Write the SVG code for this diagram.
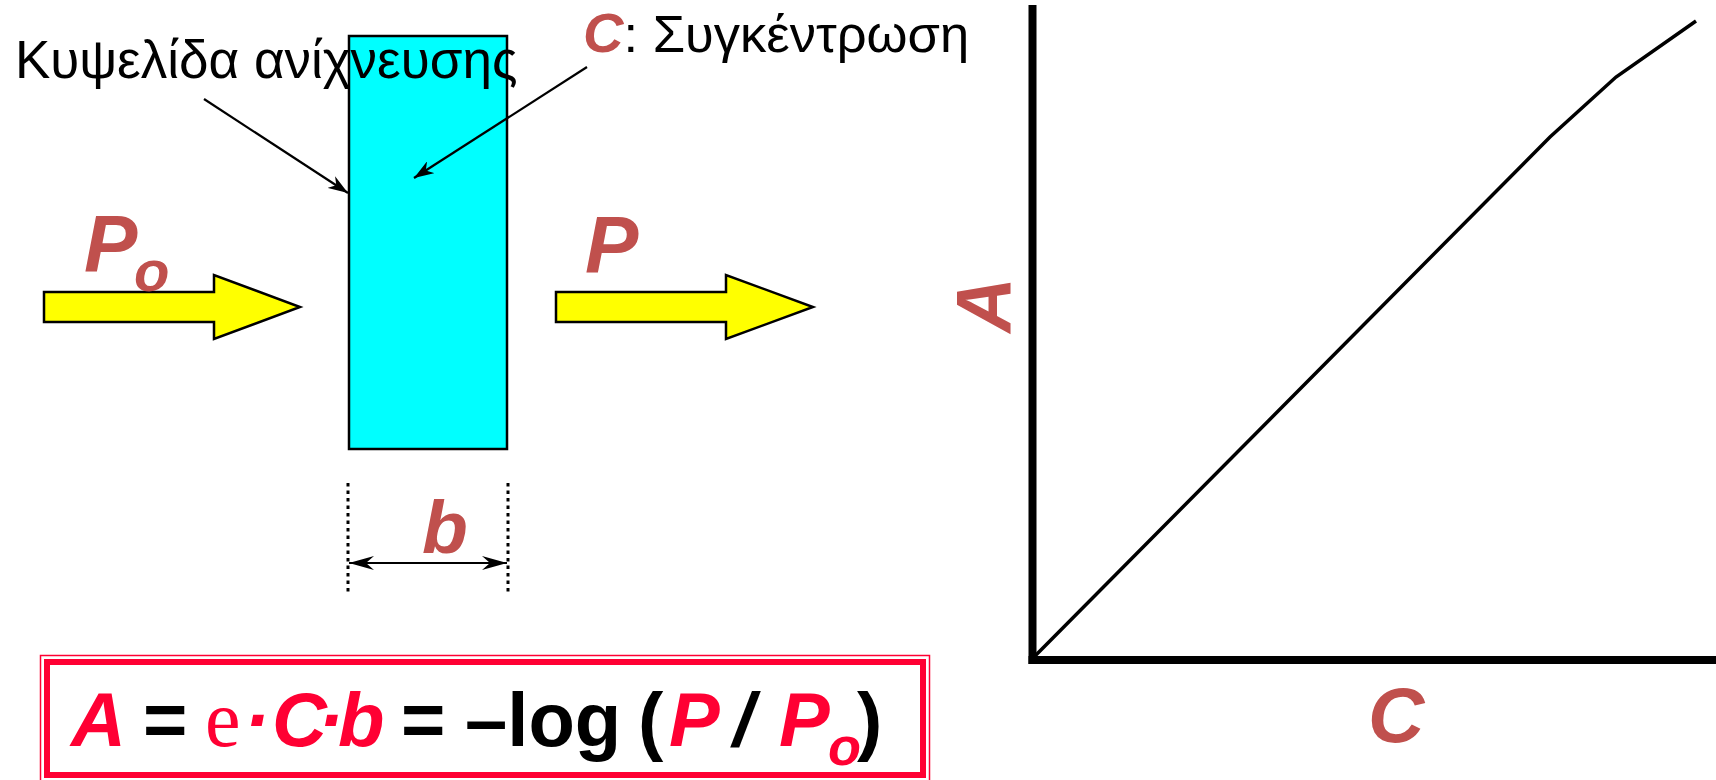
<svg xmlns="http://www.w3.org/2000/svg" width="1716" height="780" viewBox="0 0 1716 780">
<style>
.lbl{font-family:"Liberation Sans",Arial,sans-serif;font-weight:bold;font-style:italic;fill:#C0504D}
.txt{font-family:"Liberation Sans",Arial,sans-serif;fill:#000}
.fr{font-family:"Liberation Sans",Arial,sans-serif;font-weight:bold;font-style:italic;fill:#FF0033;font-size:76px}
.fb{font-family:"Liberation Sans",Arial,sans-serif;font-weight:bold;fill:#000;font-size:76px}
.lead{stroke:#000;stroke-width:2.2;fill:none}
.yarrow{fill:#FFFF00;stroke:#000;stroke-width:2.5}
</style>
<defs>
<marker id="stealth" viewBox="0 0 20 14" refX="20" refY="7" markerWidth="20" markerHeight="14" markerUnits="userSpaceOnUse" orient="auto">
<path d="M0,0 L20,7 L0,14 L6,7 Z" fill="#000"/>
</marker>
<marker id="dim" viewBox="0 0 25 14" refX="25" refY="7" markerWidth="25" markerHeight="14" markerUnits="userSpaceOnUse" orient="auto-start-reverse">
<path d="M0,0 L25,7 L0,14 L8,7 Z" fill="#000"/>
</marker>
</defs>
<rect width="1716" height="780" fill="#fff"/>

<g id="cell">
<rect x="349" y="36" width="158" height="413" fill="#00FFFF" stroke="#000" stroke-width="2.5"/>
</g>
<g id="cell-label">
<text class="txt" x="15" y="78" font-size="53">Κυψελίδα ανίχνευσης</text>
</g>
<g id="conc-label">
<text class="txt" x="583" y="52" font-size="52.5"><tspan style="fill:#C0504D;font-weight:bold;font-style:italic;font-size:56px">C</tspan>: Συγκέντρωση</text>
</g>

<g id="beam-in">
<polygon class="yarrow" points="44,292 214,292 214,275 300,307 214,339 214,322 44,322"/>
<text class="lbl" x="84" y="271" font-size="80">P</text>
<text class="lbl" x="134" y="291" font-size="58">o</text>
</g>
<g id="beam-out">
<polygon class="yarrow" points="556,292 726,292 726,275 813,307 726,339 726,322 556,322"/>
<text class="lbl" x="585" y="272" font-size="80">P</text>
</g>

<g id="width-b">
<line x1="348" y1="483" x2="348" y2="592" stroke="#000" stroke-width="3" stroke-dasharray="3.5 4"/>
<line x1="508" y1="483" x2="508" y2="592" stroke="#000" stroke-width="3" stroke-dasharray="3.5 4"/>
<text class="lbl" x="422" y="553" font-size="75">b</text>
</g>

<g id="connectors">
<line class="lead" x1="204" y1="99" x2="348" y2="193" marker-end="url(#stealth)"/>
<line class="lead" x1="587" y1="67" x2="414" y2="178" marker-end="url(#stealth)"/>
<line class="lead" x1="349" y1="563" x2="507" y2="563" marker-start="url(#dim)" marker-end="url(#dim)"/>
</g>

<g id="formula">
<rect x="40.5" y="655.5" width="889" height="126" fill="none" stroke="#FF0033" stroke-width="1.5"/>
<rect x="47" y="662" width="876" height="113" fill="none" stroke="#FF0033" stroke-width="6"/>
<text class="fr" x="71" y="746">A</text>
<text class="fb" x="143" y="746">=</text>
<text x="205" y="746" font-family="Liberation Serif,'Times New Roman',serif" font-size="80" fill="#FF0033">e</text>
<text class="fr" x="244 272 318 338" y="746">·C·b</text>
<text class="fb" x="401" y="746">=</text>
<text class="fb" x="465" y="746">–log</text>
<text class="fb" x="638" y="746">(</text>
<text class="fr" x="669" y="746">P</text>
<text class="fb" x="733" y="746" style="font-style:italic">/</text>
<text class="fr" x="779" y="746">P</text>
<text class="fr" x="828" y="765" style="font-size:54px">o</text>
<text class="fb" x="857" y="746">)</text>
</g>

<g id="chart">
<line x1="1032.5" y1="5" x2="1032.5" y2="664" stroke="#000" stroke-width="8"/>
<line x1="1028.5" y1="660" x2="1716" y2="660" stroke="#000" stroke-width="8"/>
<polyline points="1034,657 1550,137 1616,77 1696,21" fill="none" stroke="#000" stroke-width="3.5"/>
<text class="lbl" x="0" y="0" font-size="77" text-anchor="middle" transform="translate(1011,305) rotate(-90)">A</text>
<text class="lbl" x="1368" y="742" font-size="78">C</text>
</g>
</svg>
